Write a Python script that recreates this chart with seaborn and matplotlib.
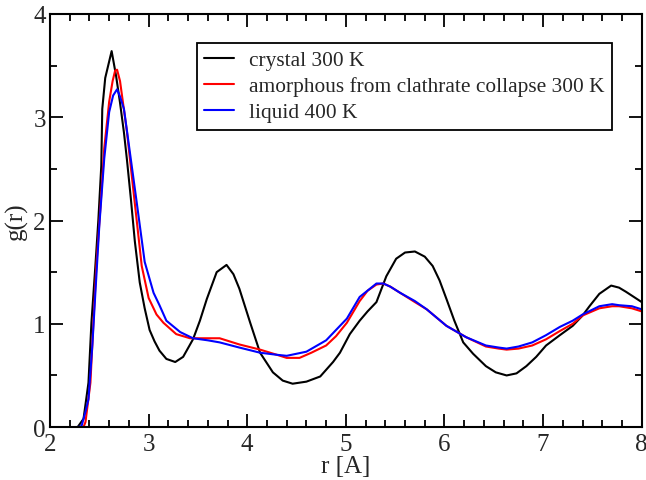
import numpy as np
import pandas as pd
import matplotlib
matplotlib.use("Agg")
import matplotlib.pyplot as plt
import seaborn as sns
from matplotlib.ticker import MultipleLocator

# g(r) curves
r_crystal = [2.28, 2.34, 2.39, 2.42, 2.46, 2.49, 2.52, 2.53, 2.56, 2.625, 2.67, 2.71,
             2.75, 2.78, 2.82, 2.86, 2.91, 2.96, 3.01, 3.06, 3.11, 3.18, 3.27, 3.35,
             3.45, 3.52, 3.59, 3.69, 3.79, 3.86, 3.92, 4.03, 4.13, 4.26, 4.36, 4.46,
             4.60, 4.74, 4.87, 4.94, 5.04, 5.14, 5.22, 5.31, 5.41, 5.51, 5.60, 5.70,
             5.80, 5.88, 5.95, 6.02, 6.10, 6.19, 6.29, 6.42, 6.52, 6.63, 6.73, 6.83,
             6.93, 7.03, 7.17, 7.30, 7.40, 7.47, 7.57, 7.69, 7.77, 7.84, 7.92, 8.00]
g_crystal = [0.00, 0.08, 0.43, 1.01, 1.56, 2.00, 2.53, 3.08, 3.38, 3.64, 3.40, 3.14,
             2.85, 2.59, 2.21, 1.80, 1.40, 1.15, 0.94, 0.83, 0.74, 0.66, 0.63, 0.68,
             0.85, 1.03, 1.24, 1.50, 1.57, 1.48, 1.34, 1.01, 0.72, 0.53, 0.45, 0.42,
             0.44, 0.49, 0.63, 0.72, 0.90, 1.03, 1.12, 1.21, 1.46, 1.63, 1.69, 1.70,
             1.65, 1.56, 1.42, 1.24, 1.03, 0.82, 0.71, 0.59, 0.53, 0.50, 0.52, 0.59,
             0.68, 0.79, 0.89, 0.98, 1.08, 1.17, 1.29, 1.37, 1.35, 1.31, 1.26, 1.21]

r_amorph = [2.34, 2.36, 2.41, 2.44, 2.47, 2.51, 2.55, 2.60, 2.635, 2.66, 2.68, 2.71,
            2.74, 2.78, 2.855, 2.93, 3.00, 3.08, 3.15, 3.28, 3.42, 3.55, 3.72, 3.82,
            3.92, 4.13, 4.30, 4.40, 4.53, 4.65, 4.80, 4.90, 5.01, 5.14, 5.22, 5.31,
            5.38, 5.45, 5.55, 5.70, 5.82, 6.02, 6.22, 6.42, 6.55, 6.63, 6.75, 6.89,
            7.03, 7.17, 7.30, 7.40, 7.57, 7.70, 7.77, 7.90, 8.00]
g_amorph = [0.00, 0.05, 0.43, 1.01, 1.56, 2.11, 2.70, 3.15, 3.35, 3.45, 3.46, 3.35,
            3.14, 2.86, 2.21, 1.56, 1.25, 1.09, 1.01, 0.90, 0.86, 0.86, 0.86, 0.83,
            0.80, 0.75, 0.70, 0.67, 0.67, 0.72, 0.79, 0.88, 1.01, 1.22, 1.32, 1.38,
            1.39, 1.36, 1.30, 1.21, 1.14, 0.98, 0.87, 0.78, 0.76, 0.75, 0.76, 0.79,
            0.85, 0.93, 1.00, 1.08, 1.15, 1.17, 1.17, 1.15, 1.12]

r_liquid = [2.28, 2.32, 2.36, 2.39, 2.43, 2.46, 2.50, 2.55, 2.60, 2.64, 2.68, 2.71,
            2.75, 2.80, 2.88, 2.96, 3.05, 3.11, 3.18, 3.32, 3.45, 3.60, 3.72, 3.92,
            4.13, 4.30, 4.40, 4.50, 4.60, 4.80, 5.01, 5.14, 5.31, 5.38, 5.45, 5.55,
            5.70, 5.82, 6.02, 6.22, 6.42, 6.55, 6.63, 6.75, 6.89, 7.03, 7.17, 7.30,
            7.40, 7.57, 7.70, 7.77, 7.90, 8.00]
g_liquid = [0.00, 0.01, 0.15, 0.27, 0.80, 1.30, 1.95, 2.60, 3.05, 3.21, 3.27, 3.20,
            3.08, 2.73, 2.17, 1.60, 1.30, 1.18, 1.03, 0.92, 0.86, 0.84, 0.82, 0.77,
            0.72, 0.70, 0.69, 0.71, 0.73, 0.84, 1.05, 1.26, 1.39, 1.39, 1.36, 1.30,
            1.22, 1.14, 0.98, 0.87, 0.79, 0.77, 0.76, 0.78, 0.82, 0.89, 0.97, 1.03,
            1.09, 1.17, 1.19, 1.18, 1.17, 1.14]

labels = ["crystal 300 K", "amorphous from clathrate collapse 300 K", "liquid 400 K"]
colors = ["black", "red", "blue"]

df = pd.concat([
    pd.DataFrame({"r": r_crystal, "g": g_crystal, "series": labels[0]}),
    pd.DataFrame({"r": r_amorph, "g": g_amorph, "series": labels[1]}),
    pd.DataFrame({"r": r_liquid, "g": g_liquid, "series": labels[2]}),
])

sns.set_style("ticks")
plt.rcParams["font.family"] = ["Liberation Serif", "DejaVu Serif"]

fig = plt.figure(figsize=(6.46, 4.81), dpi=100)
ax = fig.add_axes([0.0774, 0.110, 0.916, 0.859])

sns.lineplot(data=df, x="r", y="g", hue="series", palette=colors,
             estimator=None, sort=False, linewidth=1.5, ax=ax)

ax.set_xlim(2, 8)
ax.set_ylim(0, 4)
ax.xaxis.set_major_locator(MultipleLocator(1))
ax.xaxis.set_minor_locator(MultipleLocator(0.2))
ax.yaxis.set_major_locator(MultipleLocator(1))
ax.yaxis.set_minor_locator(MultipleLocator(0.5))
ax.tick_params(which="both", direction="in", top=True, right=True,
               color="black", width=1.3, labelsize=18)
ax.tick_params(which="major", length=9.5)
ax.tick_params(which="minor", length=5)
ax.tick_params(axis="x", pad=4)
ax.tick_params(axis="y", pad=3)
for s in ax.spines.values():
    s.set_visible(True)
    s.set_linewidth(1.5)
    s.set_color("black")

ax.set_xlabel("r [A]", fontsize=18, labelpad=0)
ax.set_ylabel("g(r)", fontsize=18, labelpad=4)

leg = ax.legend(loc="upper left", bbox_to_anchor=(0.248, 0.93), borderaxespad=0,
                fontsize=15.4, frameon=True, fancybox=False, framealpha=1,
                handlelength=1.4, handletextpad=0.7, labelspacing=0.28,
                borderpad=0.35, title=None)
leg.get_frame().set_edgecolor("black")
leg.get_frame().set_linewidth(1.3)
for line in leg.get_lines():
    line.set_linewidth(1.5)

fig.savefig("out.png", dpi=100)
